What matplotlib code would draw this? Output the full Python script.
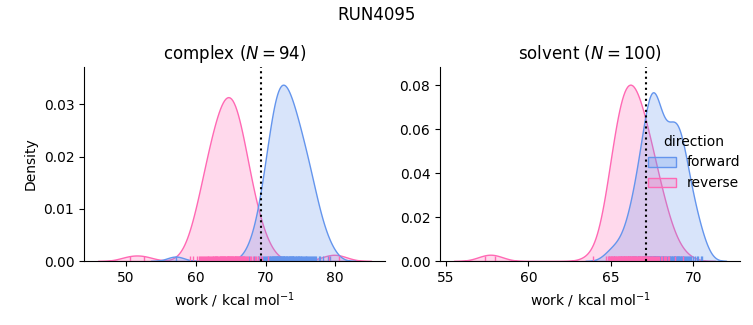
import numpy as np
import pandas as pd
import matplotlib
matplotlib.use("Agg")
import matplotlib.pyplot as plt
import seaborn as sns

run_name = "RUN4095"
phases = ["complex", "solvent"]
directions = ["forward", "reverse"]
colors = {"forward": "cornflowerblue", "reverse": "hotpink"}

# nonequilibrium work per cycle, kcal/mol
complex_forward = [
    57.1, 67.6, 68.4, 68.9, 69.1, 69.4, 69.6, 69.8, 69.9,
    70.05, 70.2, 70.3, 70.45, 70.6, 70.7, 70.8, 70.9, 70.95,
    71.0, 71.1, 71.15, 71.25, 71.3, 71.4, 71.45, 71.5, 71.6, 71.65, 71.7, 71.8, 71.85, 71.95,
    72.0, 72.05, 72.1, 72.2, 72.25, 72.3, 72.4, 72.45, 72.5, 72.6, 72.65, 72.7, 72.8, 72.95,
    73.0, 73.1, 73.15, 73.2, 73.3, 73.35, 73.45, 73.5, 73.6, 73.65, 73.75, 73.8, 73.9, 73.95,
    74.0, 74.1, 74.2, 74.3, 74.4, 74.5, 74.6, 74.7, 74.75, 74.85, 74.95,
    75.05, 75.15, 75.3, 75.4, 75.5, 75.6, 75.75, 75.85, 75.95,
    76.1, 76.25, 76.4, 76.5, 76.6, 76.75, 76.9, 77.1, 77.3, 77.6, 77.8, 78.2, 78.9, 79.3,
]
complex_reverse = [
    50.5, 52.6, 59.2, 59.6,
    60.15, 60.4, 60.6, 60.8, 60.95,
    61.0, 61.15, 61.3, 61.4, 61.55, 61.7, 61.8, 61.9,
    62.05, 62.15, 62.3, 62.4, 62.5, 62.6, 62.7, 62.8, 62.85, 62.95,
    63.0, 63.1, 63.2, 63.3, 63.4, 63.5, 63.6, 63.65, 63.7, 63.8, 63.85, 63.95,
    64.0, 64.1, 64.15, 64.25, 64.3, 64.4, 64.5, 64.55, 64.6, 64.65, 64.7, 64.8, 64.9, 64.95,
    65.0, 65.1, 65.15, 65.25, 65.3, 65.4, 65.5, 65.55, 65.6, 65.65, 65.7, 65.8, 65.9, 65.95,
    66.0, 66.1, 66.2, 66.3, 66.4, 66.5, 66.6, 66.65, 66.7, 66.8, 66.9, 66.95,
    67.1, 67.25, 67.4, 67.55, 67.7, 67.85,
    68.2, 68.45, 68.7, 68.9, 69.2, 69.5, 70.4, 79.1, 80.6,
]
solvent_forward = [
    64.9, 65.2, 65.6, 65.8, 66.05, 66.15,
    66.3, 66.36, 66.42, 66.48, 66.52, 66.62, 66.67, 66.72,
    66.78, 66.88, 66.93, 66.97,
    67.02, 67.06, 67.1, 67.14, 67.17, 67.2, 67.23,
    67.26, 67.29, 67.31, 67.34, 67.37, 67.4, 67.43, 67.46, 67.49,
    67.51, 67.53, 67.56, 67.59, 67.61, 67.64, 67.65, 67.67, 67.69, 67.72, 67.74,
    67.77, 67.8, 67.84, 67.87, 67.9, 67.94, 67.98,
    68.03, 68.08, 68.14, 68.19, 68.24, 68.3, 68.36, 68.42, 68.47,
    68.52, 68.56, 68.6, 68.64, 68.68, 68.72,
    68.76, 68.8, 68.84, 68.88, 68.9, 68.91, 68.94, 68.98,
    69.02, 69.06, 69.1, 69.12, 69.15, 69.19, 69.23, 69.28, 69.33, 69.36, 69.38, 69.42, 69.47,
    69.53, 69.6, 69.66, 69.72, 69.8, 69.88, 69.96, 70.08, 70.2, 70.3, 70.45, 70.55,
]
solvent_reverse = [
    57.4, 58.0, 63.9, 64.7, 64.85, 64.9, 64.95, 64.98,
    65.02, 65.06, 65.1, 65.13, 65.17, 65.21, 65.25, 65.29, 65.33, 65.37, 65.41, 65.45, 65.48,
    65.52, 65.55, 65.58, 65.61, 65.64, 65.67, 65.7, 65.73,
    65.76, 65.79, 65.82, 65.85, 65.88, 65.9, 65.91, 65.94, 65.97,
    66.01, 66.04, 66.05, 66.07, 66.1, 66.13, 66.16, 66.19, 66.22, 66.25,
    66.28, 66.31, 66.34, 66.37, 66.4, 66.43, 66.46, 66.49,
    66.52, 66.55, 66.58, 66.62, 66.65, 66.68, 66.71, 66.74,
    66.78, 66.81, 66.84, 66.88, 66.91, 66.94, 66.98,
    67.02, 67.06, 67.1, 67.14, 67.18, 67.22, 67.26, 67.3, 67.34, 67.38, 67.42, 67.47,
    67.52, 67.58, 67.63, 67.69, 67.74, 67.8, 67.85, 67.9,
    68.04, 68.12, 68.2, 68.28, 68.36, 68.44, 68.55, 68.88, 69.4,
]

# BAR free energy estimate per phase (dotted line)
dg_complex = 69.3
dg_solvent = 67.15

work = {
    ("complex", "forward"): complex_forward,
    ("complex", "reverse"): complex_reverse,
    ("solvent", "forward"): solvent_forward,
    ("solvent", "reverse"): solvent_reverse,
}
df = pd.concat(
    [pd.DataFrame({"phase": p, "direction": d, "work": w}) for (p, d), w in work.items()],
    ignore_index=True,
)

g = sns.displot(
    data=df, x="work", hue="direction", col="phase",
    kind="kde", fill=True, rug=True,
    hue_order=directions, palette=colors,
    facet_kws=dict(sharex=False, sharey=False),
)

for ax, phase, dg in zip(g.axes.flat, phases, [dg_complex, dg_solvent]):
    n = len(work[(phase, "forward")])
    ax.set_title(f"{phase} ($N = {n}$)")
    ax.axvline(dg, color="k", ls=":")

g.set_axis_labels("work / kcal mol$^{-1}$", "Density")
g.figure.suptitle(run_name)

g.figure.set_size_inches(7.53, 3.25)
g.axes[0, 0].set_position([0.1116, 0.1969, 0.3997, 0.5969])
g.axes[0, 1].set_position([0.5843, 0.1969, 0.3984, 0.5969])

g.figure.savefig("out.png", dpi=100)
